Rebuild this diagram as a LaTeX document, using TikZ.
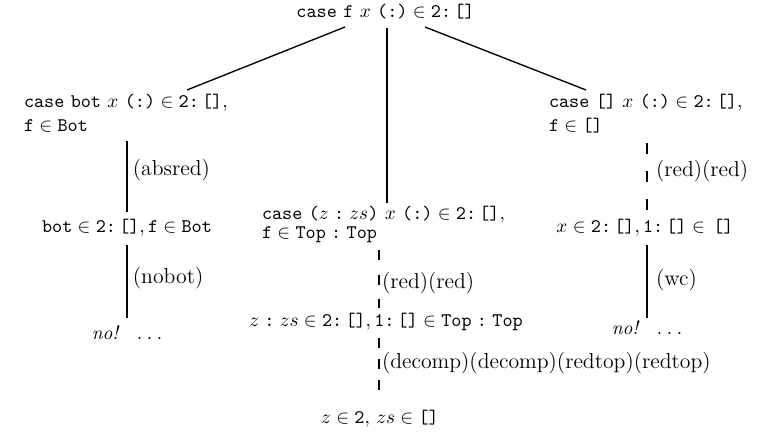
\documentclass[tikz,border=0pt]{standalone}
\usetikzlibrary{calc}
\newcommand{\ttx}[1]{\texttt{#1}}
\newcommand{\nil}{\texttt{[]}}
\newcommand{\cn}{\mathpunct{\texttt{:}}}
\newcommand{\rc}{\mathrel{\texttt{:}}}
\newcommand{\nodots}{\textit{no!}\hspace{9pt}\textup{.\hspace{2.4pt}.\hspace{2.4pt}.}}
\begin{document}
\begin{tikzpicture}[x=0.52pt,y=-0.52pt,
  every node/.style={inner sep=0pt,outer sep=0pt,text height=7.5pt,text depth=2.5pt},
  term/.style={anchor=base},
  termL/.style={anchor=base west},
  lab/.style={anchor=base west,font=\fontsize{11.3}{13}\selectfont},
  diag/.style={line width=0.7pt},
  solidstep/.style={line width=1.3pt},
  dashstep/.style 2 args={line width=0.6pt,dash pattern=on #1 off #2}]
\useasboundingbox (0,0) rectangle (778,441);

% terms
\node[term] (top) at (385.5,17) {$\ttx{case}\ \ttx{f}\ x\ \ttx{(:)}\in\ttx{2}\cn\nil$};
\node[termL,text depth=15pt] (L1) at (24,107) {\begin{tabular}[t]{@{}l@{}}$\ttx{case}\ \ttx{bot}\ x\ \ttx{(:)}\in\ttx{2}\cn\nil,$\\[0.5pt] $\ttx{f}\in\ttx{Bot}$\end{tabular}};
\node[termL,text depth=12.6pt] (M1) at (262,219) {\renewcommand{\arraystretch}{0.84}\begin{tabular}[t]{@{}l@{}}$\ttx{case}\ \ttx{(}z\rc zs\ttx{)}\ x\ \ttx{(:)}\in\ttx{2}\cn\nil,$\\ $\ttx{f}\in\ttx{Top}\rc\ttx{Top}$\end{tabular}};
\node[termL,text depth=15pt] (R1) at (549,107) {\begin{tabular}[t]{@{}l@{}}$\ttx{case}\ \nil\ x\ \ttx{(:)}\in\ttx{2}\cn\nil,$\\[0.5pt] $\ttx{f}\in\nil$\end{tabular}};
\node[term] (L2) at (127,232) {$\ttx{bot}\in\ttx{2}\cn\nil,\ttx{f}\in\ttx{Bot}$};
\node[term] (M2) at (386,326) {$z\rc zs\in\ttx{2}\cn\nil,\ttx{1}\cn\nil\in\ttx{Top}\rc\ttx{Top}$};
\node[term] (R2) at (645,232) {$x\in\ttx{2}\cn\nil,\ttx{1}\cn\nil\in\,\nil$};
\node[term] (M3) at (380,423) {$z\in\ttx{2},\,zs\in\nil$};
\node[term] (L3) at (127,339) {\nodots};
\node[term] (R3) at (647,334) {\nodots};

% branches from the root
\draw[diag] ($(top.south)+(-40.5,5.2)$) -- ($(L1.north west)+(163,-2.6)$);
\draw[solidstep] ($(top.south)+(1.5,6.2)$) -- ($(top.south |- M1.north)+(1.5,-1.6)$);
\draw[diag] ($(top.south)+(39.5,5.2)$) -- ($(R1.north west)+(37,-2.6)$);

% left branch
\draw[solidstep] ($(L1.south -| L2.north)+(0,5.2)$) -- ($(L2.north)+(0,-5.6)$)
  node[lab,pos=0.479,xshift=3.1pt] (l1) {(absred)};
\draw[solidstep] ($(L2.south)+(0,8.2)$) -- ($(L2.south |- L3.north)+(0,-6.6)$)
  node[lab,pos=0.521,xshift=3.1pt] (l2) {(nobot)};

% middle branch
\draw[dashstep={5.2pt}{7.3pt}] ($(M1.south -| M3.north)+(-1,7.25)$) -- ($(M2.north -| M3.north)+(-1,-3.6)$)
  node[lab,pos=0.655,xshift=1.56pt] (m1) {(red)(red)};
\draw[dashstep={5.2pt}{5.72pt}] ($(M2.south -| M3.north)+(-1,7.2)$) -- ($(M3.north)+(-1,-18.6)$)
  node[lab,pos=0.577,xshift=1.56pt] (m2) {(decomp)(decomp)(redtop)(redtop)};

% right branch
\draw[dashstep={5.72pt}{8.84pt}] ($(R1.south -| R2.north)+(2,7.2)$) -- ($(R2.north)+(2,-7.6)$)
  node[lab,pos=0.493,xshift=4.7pt] (r1) {(red)(red)};
\draw[solidstep] ($(R2.south)+(2,8.2)$) -- ($(R2.south |- R3.north)+(2,-1.6)$)
  node[lab,pos=0.548,xshift=4.7pt] (r2) {(wc)};
\end{tikzpicture}
\end{document}
